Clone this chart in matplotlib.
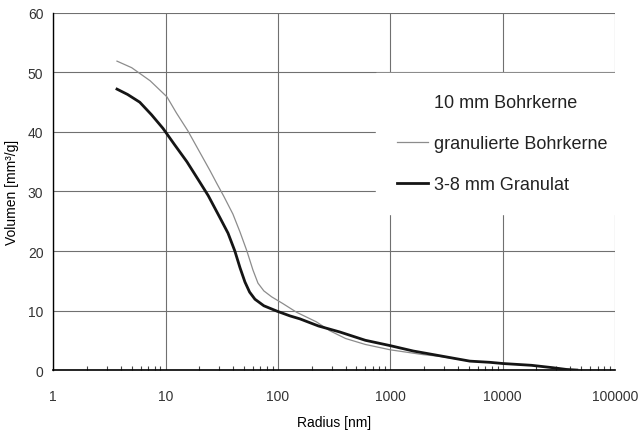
import numpy as np
import matplotlib.pyplot as plt
from matplotlib.lines import Line2D
from matplotlib.ticker import FixedLocator, LogLocator, NullFormatter

plt.rcParams["font.family"] = ["Liberation Sans", "DejaVu Sans"]

# granulierte Bohrkerne (thin grey line)
gran_r = [3.7, 5.0, 7.3, 10.3, 12.5, 15.8, 19.5, 24.9, 28.7, 33.0, 39.8, 46.0, 53.0,
          60.0, 66.5, 75.0, 88.0, 110.0, 147.0, 220.0, 290.0, 400.0, 600.0, 1000.0,
          1950.0, 2760.0, 5100.0, 7700.0, 10000.0, 18000.0, 27800.0, 37000.0, 45700.0]
gran_v = [51.9, 50.8, 48.6, 45.9, 43.2, 40.2, 37.1, 33.5, 31.3, 29.2, 26.2, 23.2, 20.0,
          16.8, 14.6, 13.3, 12.3, 11.2, 9.7, 8.1, 6.6, 5.3, 4.3, 3.4,
          2.6, 2.3, 1.5, 1.3, 1.1, 0.8, 0.4, 0.1, 0.0]

# 3-8 mm Granulat (thick black line)
korn_r = [3.7, 4.6, 5.9, 7.5, 9.5, 12.0, 15.5, 20.3, 24.0, 30.5, 36.0, 41.4, 46.0,
          50.9, 56.0, 62.5, 75.0, 98.0, 128.0, 157.0, 230.0, 355.0, 600.0, 1000.0,
          1600.0, 2760.0, 5100.0, 7700.0, 10000.0, 18000.0, 27800.0, 37000.0, 45700.0]
korn_v = [47.2, 46.3, 45.0, 42.9, 40.6, 37.9, 35.0, 31.5, 29.3, 25.6, 23.0, 20.0, 17.2,
          14.8, 13.1, 11.9, 10.8, 9.9, 9.1, 8.6, 7.4, 6.4, 5.0, 4.1,
          3.2, 2.4, 1.5, 1.3, 1.1, 0.8, 0.4, 0.1, 0.0]

series_labels = ["10 mm Bohrkerne", "granulierte Bohrkerne", "3-8 mm Granulat"]
x_ticks = [1, 10, 100, 1000, 10000, 100000]
y_ticks = [0, 10, 20, 30, 40, 50, 60]

fig = plt.figure(figsize=(6.4, 4.35), dpi=100)
ax = fig.add_axes([0.083, 0.147, 0.878, 0.821])

ax.set_xscale("log")
ax.set_xlim(1, 100000)
ax.set_ylim(0, 60)

ax.plot(gran_r, gran_v, color="#8c8c8c", lw=0.9, zorder=3)
ax.plot(korn_r, korn_v, color="#151515", lw=2.0, zorder=4)

# grid / frame
ax.xaxis.set_major_locator(FixedLocator(x_ticks))
ax.set_xticklabels([str(t) for t in x_ticks])
ax.xaxis.set_minor_locator(LogLocator(base=10, subs=np.arange(2, 10)))
ax.xaxis.set_minor_formatter(NullFormatter())
ax.set_yticks(y_ticks)
ax.grid(True, which="major", color="#707070", lw=0.8, zorder=0)
for side in ["top", "right"]:
    ax.spines[side].set_visible(False)
ax.spines["left"].set_linewidth(1.0)
ax.spines["bottom"].set_linewidth(1.2)
ax.tick_params(axis="x", which="major", length=0, pad=14, labelsize=10, colors="#333333")
ax.tick_params(axis="x", which="minor", direction="in", length=3, width=0.8, color="#444444")
ax.tick_params(axis="y", which="major", length=0, pad=7, labelsize=10, colors="#333333")

ax.set_xlabel("Radius [nm]", fontsize=10, labelpad=8)
ax.set_ylabel("Volumen [mm³/g]", fontsize=10, labelpad=6)

handles = [
    Line2D([0], [0], color="white", lw=1.0),
    Line2D([0], [0], color="#8c8c8c", lw=0.9),
    Line2D([0], [0], color="#151515", lw=2.0),
]
leg = ax.legend(handles, series_labels, loc="upper left", bbox_to_anchor=(0.575, 0.832),
                frameon=True, fontsize=13, handlelength=1.7, handletextpad=0.35,
                labelspacing=1.35, borderpad=1.15, borderaxespad=0, fancybox=False,
                edgecolor="white", facecolor="white", framealpha=1.0)
leg.set_zorder(5)
for t in leg.get_texts():
    t.set_color("#222222")

fig.savefig("out.png", dpi=100)
